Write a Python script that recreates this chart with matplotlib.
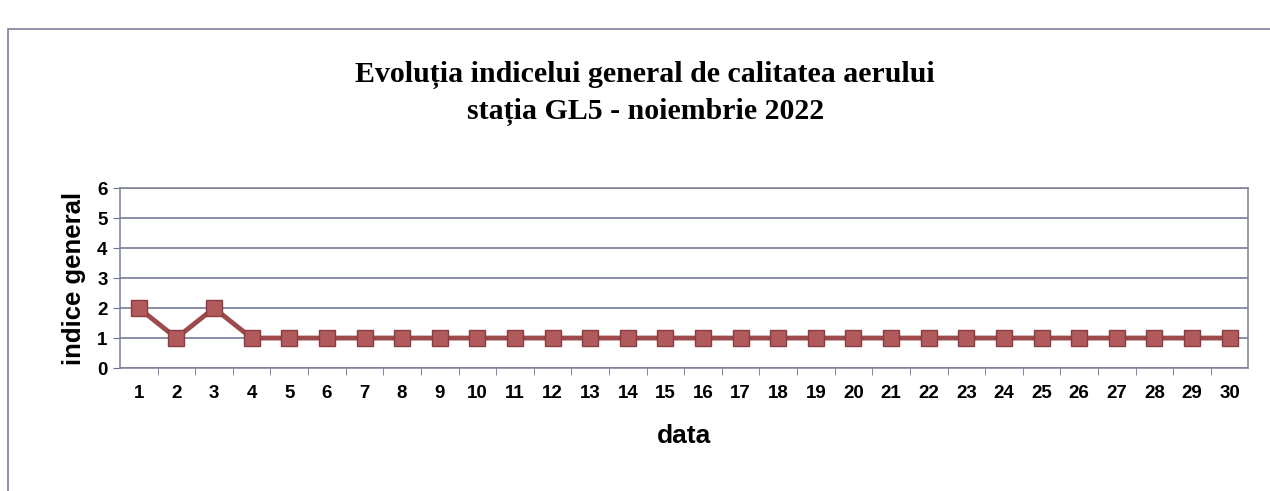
import matplotlib
matplotlib.use("Agg")
import matplotlib.pyplot as plt
import matplotlib.patches as mpatches
import numpy as np

days = list(range(1, 31))
indice = [2, 1, 2] + [1] * 27
title = "Evoluția indicelui general de calitatea aerului\nstația GL5 - noiembrie 2022"

fig = plt.figure(figsize=(12.7, 4.91), dpi=100)
ax = fig.add_axes([0.0945, 0.2505, 0.8885, 0.366])

# outer chart border (cut by the scan)
fig.patches.append(mpatches.Rectangle((0.006, -0.1), 1.2, 1.04, transform=fig.transFigure,
                                      fill=False, edgecolor="#7a7f95", linewidth=1.2))

ax.plot(days, indice, color="#9c4a4c", linewidth=3.5, marker="s", markersize=11.5,
        markerfacecolor="#b05a5c", markeredgecolor="#8c3c40", markeredgewidth=1, zorder=3)

ax.set_xlim(0.5, 30.5)
ax.set_ylim(0, 6)
ax.set_yticks(range(0, 7))
ax.set_xticks(days)
ax.set_xticks(np.arange(1.5, 30.5, 1), minor=True)
ax.tick_params(axis="x", which="major", length=0, pad=12)
ax.tick_params(axis="x", which="minor", length=5, color="#6a7090", direction="out")
ax.tick_params(axis="y", length=5, color="#6a7090", pad=4)
for lab in ax.get_xticklabels() + ax.get_yticklabels():
    lab.set_fontweight("bold")
    lab.set_fontsize(13.5)
    lab.set_family("Liberation Sans")

ax.grid(axis="y", color="#6a7090", linewidth=1.1)
ax.set_axisbelow(True)
for s in ax.spines.values():
    s.set_color("#7a7f95")
    s.set_linewidth(1.1)

ax.set_ylabel("indice general", fontsize=18.5, fontweight="bold", family="Liberation Sans", labelpad=8)
ax.set_xlabel("data", fontsize=19, fontweight="bold", family="Liberation Sans", labelpad=16)

fig.text(0.508, 0.81, title, ha="center", va="center", fontsize=21.5, fontweight="bold",
         family="Liberation Serif", linespacing=1.4)

fig.savefig("out.png", dpi=100)
